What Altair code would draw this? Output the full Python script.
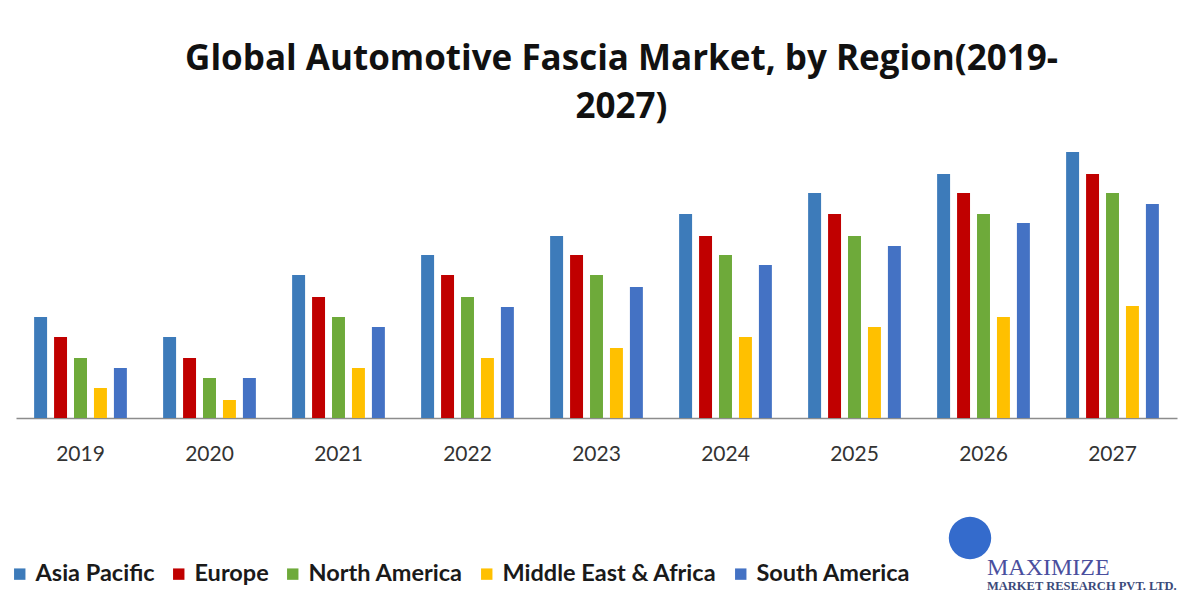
import altair as alt
import pandas as pd

years = ["2019", "2020", "2021", "2022", "2023", "2024", "2025", "2026", "2027"]
regions = ["Asia Pacific", "Europe", "North America", "Middle East & Africa", "South America"]
colors = ["#3D7BBA", "#C00000", "#6EAA3A", "#FFC000", "#4472C4"]

asia_pacific = [5.05, 4.05, 7.15, 8.15, 9.1, 10.2, 11.25, 12.2, 13.3]
europe = [4.05, 3.0, 6.05, 7.15, 8.15, 9.1, 10.2, 11.25, 12.2]
north_america = [3.0, 2.0, 5.05, 6.05, 7.15, 8.15, 9.1, 10.2, 11.25]
middle_east_africa = [1.5, 0.9, 2.5, 3.0, 3.5, 4.05, 4.55, 5.05, 5.6]
south_america = [2.5, 2.0, 4.55, 5.55, 6.55, 7.65, 8.6, 9.75, 10.7]

series = [asia_pacific, europe, north_america, middle_east_africa, south_america]
rows = []
for r, vals in zip(regions, series):
    for y, v in zip(years, vals):
        rows.append({"Year": y, "Region": r, "Value": v})
df = pd.DataFrame(rows)

bars = alt.Chart(df).mark_bar().encode(
    x=alt.X("Year:N", sort=years,
            scale=alt.Scale(paddingInner=0.25, paddingOuter=0.125),
            axis=alt.Axis(title=None, labelAngle=0, labelFontSize=21, labelColor="#333333",
                          labelFont="Lato", ticks=False, domainColor="#8c8c8c",
                          domainWidth=1.5, labelPadding=25)),
    xOffset=alt.XOffset("Region:N", sort=regions,
                        scale=alt.Scale(paddingInner=0.35, paddingOuter=0.1)),
    y=alt.Y("Value:Q", scale=alt.Scale(domain=[0, 13.9]), axis=None),
    color=alt.Color("Region:N", sort=regions,
                    scale=alt.Scale(domain=regions, range=colors),
                    legend=alt.Legend(title=None, orient="none", direction="horizontal",
                                      legendX=-8, legendY=422, labelFontSize=23.5,
                                      labelFont="Lato", labelFontWeight="bold",
                                      labelColor="#1a1a1a", labelLimit=0,
                                      symbolType="square", symbolSize=130,
                                      symbolStrokeWidth=0, columnPadding=12,
                                      labelOffset=4)),
)

logo_df = pd.DataFrame({"t": ["MAXIMIZE"]})
logo1 = alt.Chart(logo_df).mark_text(font="Liberation Serif", fontSize=24, color="#4A4F9E",
                                     align="left", baseline="alphabetic").encode(
    text="t:N", x=alt.value(971), y=alt.value(435))
logo_df2 = pd.DataFrame({"t": ["MARKET RESEARCH PVT. LTD."]})
logo2 = alt.Chart(logo_df2).mark_text(font="Liberation Serif", fontSize=12.5, color="#3B4A7A",
                                      fontWeight="bold", align="left",
                                      baseline="alphabetic").encode(
    text="t:N", x=alt.value(971), y=alt.value(450))
globe_df = pd.DataFrame({"g": [1]})
globe = alt.Chart(globe_df).mark_point(filled=True, shape="circle", size=1800,
                                       color="#1E5BC6", opacity=0.9).encode(
    x=alt.value(954), y=alt.value(398))

chart = alt.layer(bars, globe, logo1, logo2).properties(
    width=1161, height=278,
    title=alt.TitleParams(text=["Global Automotive Fascia Market, by Region(2019-", "2027)"],
                          fontSize=35, font="Open Sans", fontWeight="bold", color="#111111",
                          anchor="middle", dx=25, offset=15, lineHeight=48),
    autosize=alt.AutoSizeParams(type="none"),
    padding={"left": 8, "top": 132, "right": 15, "bottom": 174},
).configure_view(stroke=None)

chart.save("out.html", embed_options={"renderer": "svg", "actions": False})
